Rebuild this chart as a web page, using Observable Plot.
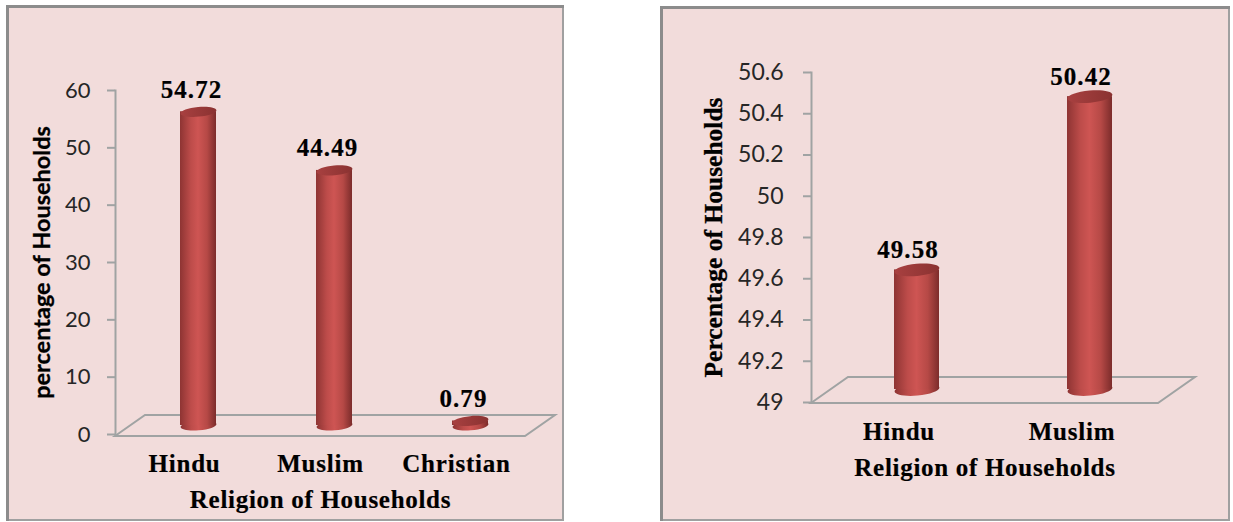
<!DOCTYPE html>
<html>
<head>
<meta charset="utf-8">
<script src="https://cdn.jsdelivr.net/npm/d3@7"></script>
<script src="https://cdn.jsdelivr.net/npm/@observablehq/plot@0.6"></script>
<style>
html,body{margin:0;padding:0;background:#fff;}
body{position:relative;width:1233px;height:522px;overflow:hidden;}
svg.panel{position:absolute;background:#f2dcdb;box-shadow:inset 3px 3px 0 #8c8c8c, inset -2px -2px 0 #a0a0a0;overflow:visible;}
g[aria-label="text"] text{letter-spacing:1.1px;stroke:#000;stroke-width:.2px;}
g[aria-label="x-axis tick label"] text{letter-spacing:.8px;stroke:#000;stroke-width:.2px;}
g[aria-label="x-axis label"] text{letter-spacing:.7px;stroke:#000;stroke-width:.2px;}
g[aria-label="y-axis label"] text{stroke:#000;stroke-width:.3px;}
</style>
</head>
<body>
<script>
const leftCategories = ["Hindu", "Muslim", "Christian"];
const leftValues = [54.72, 44.49, 0.79];
const leftTicks = [0, 10, 20, 30, 40, 50, 60];
const rightCategories = ["Hindu", "Muslim"];
const rightValues = [49.58, 50.42];
const rightTicks = [49, 49.2, 49.4, 49.6, 49.8, 50, 50.2, 50.4, 50.6];

const serif = "'Liberation Serif', serif";
const sans = "Lato, sans-serif";

// Flat, slightly tilted ellipse used for cylinder caps.
const capSymbol = {
  draw(ctx, size) {
    const rx = Math.sqrt(size / Math.PI), ry = rx * 0.27, t = -0.09, k = 0.5523;
    const c = Math.cos(t), s = Math.sin(t);
    const P = (a, b) => [a * c - b * s, a * s + b * c];
    const seg = (a, b, d) => ctx.bezierCurveTo(...P(...a), ...P(...b), ...P(...d));
    ctx.moveTo(...P(rx, 0));
    seg([rx, k * ry], [k * rx, ry], [0, ry]);
    seg([-k * rx, ry], [-rx, k * ry], [-rx, 0]);
    seg([-rx, -k * ry], [-k * rx, -ry], [0, -ry]);
    seg([k * rx, -ry], [rx, -k * ry], [rx, 0]);
    ctx.closePath();
  }
};

function gradient(id, stops) {
  const defs = d3.create("svg:defs");
  const g = defs.append("linearGradient").attr("id", id).attr("x1", 0).attr("x2", 1).attr("y1", 0).attr("y2", 0);
  stops.forEach(([o, c]) => g.append("stop").attr("offset", o).attr("stop-color", c));
  return defs.node();
}

function chart(cfg) {
  const data = cfg.categories.map((category, i) => ({category, value: cfg.values[i]}));
  const [y0] = cfg.domain;
  const d = {dx: cfg.dx, dy: cfg.dy};
  const floor = (index, scales, values, dims) => {
    const {marginLeft: l, width: w, marginRight: r, height: h, marginBottom: b} = dims;
    const x0 = l, x1 = w - r, y = h - b + cfg.floorDrop, ox = cfg.floorX, oy = cfg.floorY;
    const p = d3.path();
    p.moveTo(x0, y); p.lineTo(x0 + ox, y - oy); p.lineTo(x1 + ox, y - oy); p.lineTo(x1, y); p.closePath();
    return d3.create("svg:path").attr("d", p.toString()).attr("fill", "none").attr("stroke", "#a0a3a3").attr("stroke-width", 2).node();
  };
  const svg = Plot.plot({
    className: "chart",
    width: cfg.width, height: cfg.height,
    marginLeft: cfg.ml, marginRight: cfg.mr, marginTop: cfg.mt, marginBottom: cfg.mb,
    x: {type: "band", domain: cfg.categories, paddingInner: cfg.padding, paddingOuter: cfg.padding / 2, align: 0.5},
    y: {domain: cfg.domain},
    marks: [
      () => gradient(cfg.id + "side", [[0, "#8e3433"], [0.3, "#bd4c4a"], [0.5, "#ce5553"], [0.75, "#b64946"], [1, "#7c2c2b"]]),
      () => gradient(cfg.id + "top", [[0, "#a84040"], [1, "#8a3231"]]),
      floor,
      Plot.frame({anchor: "left", stroke: "#a0a3a3", strokeWidth: 2}),
      Plot.axisY({ticks: cfg.ticks, tickSize: 8, tickPadding: cfg.yTickPad, stroke: "#a0a3a3", strokeWidth: 2, fill: "#262626", color: "#262626",
        fontFamily: sans, fontSize: cfg.yTickSize, label: null, tickFormat: d => String(d)}),
      Plot.axisY({ticks: [], anchor: "left", label: cfg.yLabel, labelAnchor: "center", labelArrow: "none",
        labelOffset: cfg.yLabelOffset, fontFamily: cfg.yFont, fontSize: cfg.yFontSize, fontWeight: "bold", fill: "#000"}),
      Plot.axisX({tickSize: 0, tickPadding: cfg.xTickPad, label: null, fontFamily: serif, fontSize: 25, fontWeight: "bold", fill: "#000"}),
      Plot.axisX({ticks: [], label: cfg.xLabel, labelAnchor: "center", labelArrow: "none", labelOffset: cfg.xLabelOffset,
        fontFamily: serif, fontSize: 25, fontWeight: "bold", fill: "#000"}),
      Plot.dot(data, {x: "category", y: () => y0, r: cfg.radius, symbol: capSymbol, fill: `url(#${cfg.id}side)`, stroke: "none", ...d}),
      Plot.barY(data, {x: "category", y1: () => y0, y2: "value", fill: `url(#${cfg.id}side)`, ...d}),
      Plot.dot(data, {x: "category", y: "value", r: cfg.radius, symbol: capSymbol, fill: `url(#${cfg.id}top)`, stroke: "none", ...d}),
      Plot.text(data, {x: "category", y: "value", text: d => d.value.toFixed(2), dx: cfg.textDx, dy: cfg.textDy,
        fontFamily: serif, fontSize: 25, fontWeight: "bold", fill: "#000"})
    ]
  });
  svg.classList.add("panel");
  svg.style.left = cfg.left + "px";
  svg.style.top = cfg.top + "px";
  document.body.appendChild(svg);
}

chart({
  id: "a", categories: leftCategories, values: leftValues, ticks: leftTicks, domain: [0, 60],
  left: 6, top: 5, width: 558, height: 516, ml: 109, mr: 39, mt: 85, mb: 87,
  padding: 0.737, radius: 18, dx: 14, dy: -9, textDx: 7, textDy: -31,
  floorDrop: 2, floorX: 30, floorY: 21, yLabel: "percentage of Households", yLabelOffset: 82, yFont: sans, yFontSize: 23.5,
  yTickSize: 22, yTickPad: 17,
  xLabel: "Religion of Households", xLabelOffset: 73, xTickPad: 20
});
chart({
  id: "b", categories: rightCategories, values: rightValues, ticks: rightTicks, domain: [49, 50.6],
  left: 660, top: 6, width: 570, height: 515, ml: 151, mr: 72, mt: 66, mb: 119,
  padding: 0.74, radius: 22.5, dx: 18, dy: -13, textDx: 9, textDy: -33,
  floorDrop: 1, floorX: 37, floorY: 26, yLabel: "Percentage of Households", yLabelOffset: 108, yFont: serif, yFontSize: 25.5,
  yTickSize: 23, yTickPad: 20,
  xLabel: "Religion of Households", xLabelOffset: 73, xTickPad: 20
});
</script>
</body>
</html>
